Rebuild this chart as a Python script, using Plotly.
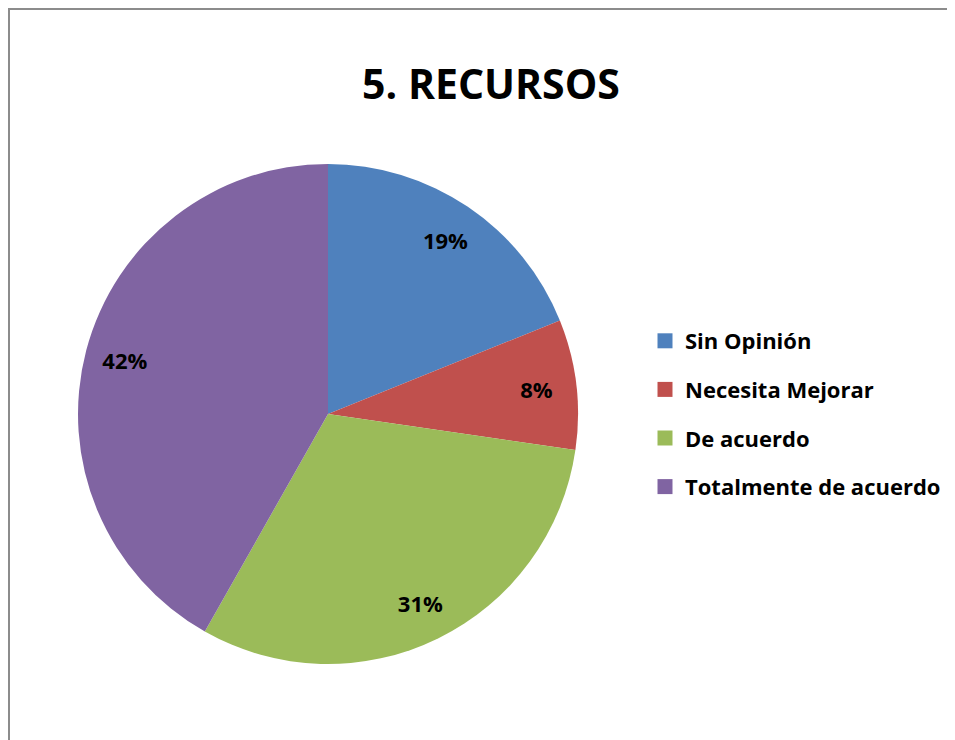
import plotly.graph_objects as go

# survey answers for item 5 (share of respondents, %)
categories = ["Sin Opinión", "Necesita Mejorar", "De acuerdo", "Totalmente de acuerdo"]
values = [18.9, 8.4, 30.9, 41.8]
colors = ["#4F81BD", "#C0504D", "#9BBB59", "#8064A2"]
title_text = "5. RECURSOS"

FONT = "Open Sans"
PIE_DOMAIN = dict(x=[70 / 955, 570 / 955], y=[84 / 740, 584 / 740])

fig = go.Figure()

# the pie itself
fig.add_trace(
    go.Pie(
        labels=categories,
        values=values,
        sort=False,
        direction="clockwise",
        rotation=0,
        marker=dict(colors=colors, line=dict(width=0)),
        textinfo="none",
        domain=PIE_DOMAIN,
        showlegend=False,
        hovertemplate="%{label}: %{percent}<extra></extra>",
    )
)

# transparent ring on top, only used to put the % labels near the rim
fig.add_trace(
    go.Pie(
        labels=categories,
        values=values,
        sort=False,
        direction="clockwise",
        rotation=0,
        hole=0.68,
        marker=dict(colors=["rgba(0,0,0,0)"] * len(values), line=dict(width=0)),
        texttemplate="%{percent:.0%}",
        textposition="inside",
        insidetextorientation="horizontal",
        textfont=dict(family=FONT, size=22, color="black", weight="bold"),
        domain=PIE_DOMAIN,
        showlegend=False,
        hoverinfo="skip",
    )
)

# legend entries (square swatches), one group each so the spacing can be set
for name, col in zip(categories, colors):
    fig.add_trace(
        go.Scatter(
            x=[None],
            y=[None],
            mode="markers",
            name=name,
            legendgroup=name,
            marker=dict(symbol="square", size=15, color=col, line=dict(width=0)),
        )
    )

fig.update_xaxes(visible=False)
fig.update_yaxes(visible=False)

fig.update_layout(
    width=955,
    height=740,
    margin=dict(l=0, r=0, t=0, b=0),
    paper_bgcolor="white",
    plot_bgcolor="white",
    font=dict(family=FONT, color="black"),
    title=dict(
        text="<b>" + title_text + "</b>",
        x=483 / 955,
        xanchor="center",
        y=1 - 77 / 740,
        yanchor="middle",
        font=dict(family=FONT, size=41, color="black"),
    ),
    legend=dict(
        x=637 / 955,
        xanchor="left",
        y=1 - 312 / 740,
        yanchor="top",
        font=dict(family=FONT, size=22, color="black", weight="bold"),
        bgcolor="rgba(0,0,0,0)",
        traceorder="grouped",
        tracegroupgap=17,
    ),
    shapes=[
        dict(
            type="rect",
            xref="paper",
            yref="paper",
            x0=1 / 955,
            x1=1.2,
            y0=-0.2,
            y1=1 - 1 / 740,
            line=dict(color="#8C8C8C", width=2),
            fillcolor="rgba(0,0,0,0)",
            layer="above",
        )
    ],
)

fig.write_html("out.html")
